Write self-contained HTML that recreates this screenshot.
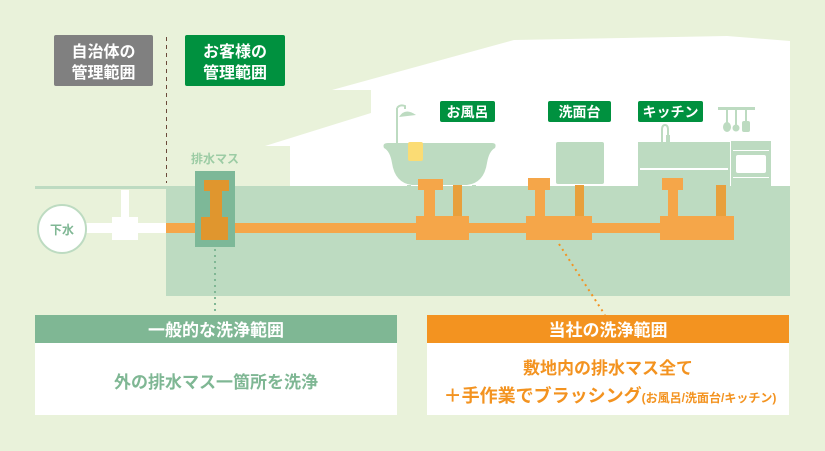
<!DOCTYPE html>
<html><head><meta charset="utf-8"><style>
body{margin:0;width:825px;height:451px;overflow:hidden;background:#e9f2da}
svg{display:block}
text{font-family:"Liberation Sans","Noto Sans CJK JP",sans-serif;font-weight:bold}
</style></head><body>
<svg width="825" height="451" viewBox="0 0 825 451" xmlns="http://www.w3.org/2000/svg">
<rect width="825" height="451" fill="#e9f2da"/>
<polygon points="265,146 371,113 371,90 332,90 514,40 727,36 790,41 790,186 290,186 290,146" fill="#fff"/>
<rect x="166" y="186" width="624" height="110" fill="#bddbc1"/>
<rect x="35" y="186" width="132" height="3" fill="#bddbc1"/>
<rect x="54" y="35" width="99" height="51" rx="2" fill="#808080"/>
<text x="103.5" y="57" font-size="16" fill="#fff" text-anchor="middle">自治体の</text>
<text x="103.5" y="78" font-size="16" fill="#fff" text-anchor="middle">管理範囲</text>
<rect x="185" y="35" width="100" height="51" rx="2" fill="#00913f"/>
<text x="235" y="57" font-size="16" fill="#fff" text-anchor="middle">お客様の</text>
<text x="235" y="78" font-size="16" fill="#fff" text-anchor="middle">管理範囲</text>
<line x1="166.5" y1="37" x2="166.5" y2="183" stroke="#6b4a3a" stroke-width="1" stroke-dasharray="4,4"/>
<rect x="80" y="223" width="87" height="10" fill="#fff"/>
<rect x="121" y="190" width="8" height="28" fill="#fff"/>
<rect x="112" y="217" width="26" height="23" fill="#fff"/>
<circle cx="62" cy="229" r="24" fill="#fff" stroke="#bddbc1" stroke-width="2"/>
<text x="62" y="234" font-size="12" fill="#7fb794" text-anchor="middle">下水</text>
<rect x="166" y="223" width="560" height="10" fill="#f5a649"/>
<text x="215" y="163" font-size="12" fill="#9ccca4" text-anchor="middle">排水マス</text>
<rect x="195" y="171" width="40" height="76" fill="#7db898"/>
<rect x="204" y="180" width="25" height="11" fill="#e0962e"/>
<rect x="210" y="190" width="12" height="28" fill="#e0962e"/>
<rect x="201" y="217" width="27" height="23" fill="#e0962e"/>
<line x1="215" y1="249" x2="215" y2="315" stroke="#7fb794" stroke-width="2" stroke-dasharray="2,4"/>
<rect x="396" y="108" width="2" height="36" fill="#bddbc1"/>
<path d="M397,108 q3,-4 8,-2 l0,3" stroke="#bddbc1" stroke-width="2" fill="none"/>
<path d="M399,117 q6,-10 17,-2 z" fill="#bddbc1"/>
<path d="M388,143 h104 q5,0 3,5 q-6,3 -8,15 q-3,20 -20,22 h-55 q-17,-2 -20,-22 q-2,-12 -8,-15 q-2,-5 4,-5z" fill="#bddbc1"/>
<rect x="407" y="185" width="4" height="5" fill="#bddbc1"/><rect x="472" y="185" width="4" height="5" fill="#bddbc1"/>
<rect x="408" y="142" width="15" height="19" rx="2" fill="#fbdc74"/>
<rect x="440" y="101" width="55" height="21" rx="2" fill="#00913f"/>
<text x="467.5" y="117" font-size="14" fill="#fff" text-anchor="middle">お風呂</text>
<rect x="556" y="142" width="48" height="42" rx="2" fill="#bddbc1"/>
<rect x="548" y="101" width="63" height="21" rx="2" fill="#00913f"/>
<text x="579.5" y="117" font-size="14" fill="#fff" text-anchor="middle">洗面台</text>
<rect x="638" y="101" width="65" height="21" rx="2" fill="#00913f"/>
<text x="670.5" y="117" font-size="14" fill="#fff" text-anchor="middle">キッチン</text>
<path d="M662,142 v-12 q0,-5 3,-5 q3,0 3,5 v6" stroke="#bddbc1" stroke-width="2" fill="none"/>
<rect x="666" y="135" width="4" height="7" fill="#bddbc1"/>
<rect x="638" y="142" width="92" height="44" fill="#bddbc1"/>
<rect x="640" y="168" width="88" height="2" fill="#fff"/>
<rect x="731" y="141" width="40" height="45" fill="#bddbc1"/>
<rect x="733" y="150" width="36" height="1" fill="#fff"/>
<rect x="736" y="155" width="30" height="18" rx="2" fill="#fff"/>
<rect x="733" y="177" width="36" height="1" fill="#fff"/>
<rect x="718" y="107" width="37" height="3" fill="#bddbc1"/>
<rect x="726" y="110" width="2" height="14" fill="#bddbc1"/><ellipse cx="727" cy="127" rx="4" ry="5" fill="#bddbc1"/>
<rect x="735" y="110" width="2" height="16" fill="#bddbc1"/><circle cx="736" cy="128" r="3.5" fill="#bddbc1"/>
<rect x="745" y="110" width="2" height="12" fill="#bddbc1"/><rect x="742" y="121" width="8" height="11" rx="2" fill="#bddbc1"/>
<g fill="#f5a649">
<rect x="418" y="179" width="25" height="11"/><rect x="424" y="189" width="11" height="28"/><rect x="416" y="216" width="53" height="24"/>
<rect x="528" y="178" width="22" height="12"/><rect x="535" y="189" width="10" height="28"/><rect x="526" y="216" width="66" height="24"/>
<rect x="662" y="178" width="21" height="12"/><rect x="668" y="189" width="10" height="28"/><rect x="660" y="216" width="74" height="24"/>
</g>
<g fill="#e8a03c">
<rect x="453" y="185" width="9" height="31"/><rect x="575" y="185" width="9" height="31"/><rect x="716" y="185" width="10" height="31"/>
</g>
<line x1="559" y1="244" x2="605" y2="315" stroke="#f39320" stroke-width="2" stroke-dasharray="2,4"/>
<rect x="35" y="315" width="362" height="100" fill="#fff"/>
<rect x="35" y="315" width="362" height="28" fill="#7fb794"/>
<text x="216" y="336" font-size="17" fill="#fff" text-anchor="middle">一般的な洗浄範囲</text>
<text x="216" y="388" font-size="17" fill="#7fb794" text-anchor="middle">外の排水マス一箇所を洗浄</text>
<rect x="427" y="315" width="362" height="100" fill="#fff"/>
<rect x="427" y="315" width="362" height="28" fill="#f39320"/>
<text x="608" y="336" font-size="17" fill="#fff" text-anchor="middle">当社の洗浄範囲</text>
<text x="608" y="374" font-size="17" fill="#f39320" text-anchor="middle">敷地内の排水マス全て</text>
<text x="610" y="402" font-size="18" fill="#f39320" text-anchor="middle">＋手作業でブラッシング<tspan font-size="12">(お風呂/洗面台/キッチン)</tspan></text>
</svg>
</body></html>
